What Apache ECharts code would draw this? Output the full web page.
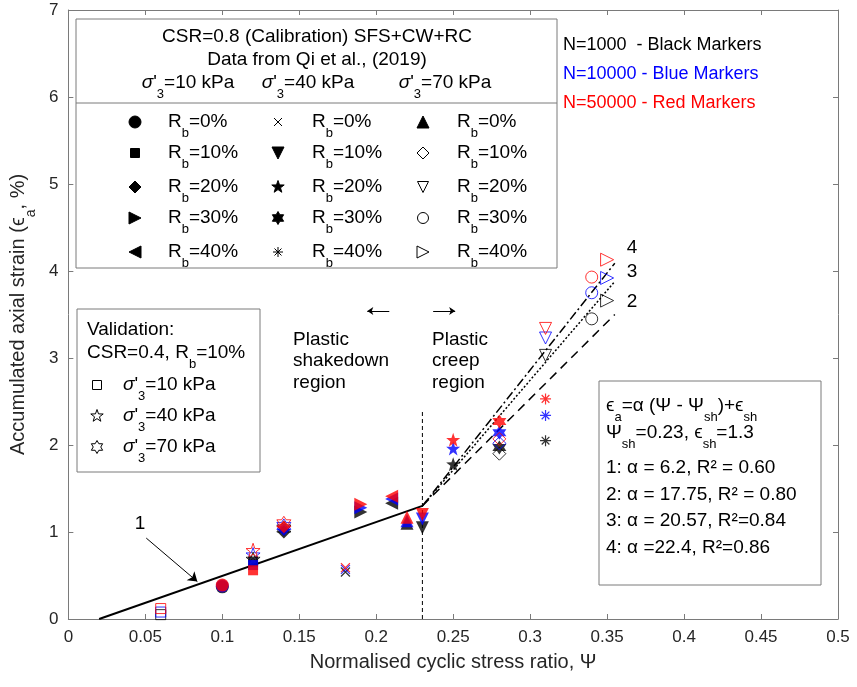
<!DOCTYPE html>
<html>
<head>
<meta charset="utf-8">
<script src="https://cdn.jsdelivr.net/npm/echarts@6/dist/echarts.min.js"></script>
<style>
  html, body { margin: 0; padding: 0; background: #fff; }
  #main { width: 857px; height: 687px; }
</style>
</head>
<body>
<div id="main"></div>
<script>
// ---- data ----
// colours for N = 1000, 10000, 50000
var nColors = ['#000000', '#0000ff', '#ff0000'];
var rbLabels = ['0%', '10%', '20%', '30%', '40%'];

// sigma'3 = 10 kPa, Rb = 0..40%
var psi10 = [0.10, 0.12, 0.14, 0.19, 0.21];
var eps10_N1000 = [0.37, 0.66, 1.00, 1.23, 1.33];
var eps10_N10000 = [0.38, 0.62, 1.03, 1.28, 1.38];
var eps10_N50000 = [0.39, 0.56, 1.06, 1.32, 1.41];

// sigma'3 = 40 kPa
var psi40 = [0.18, 0.23, 0.25, 0.28, 0.31];
var eps40_N1000 = [0.54, 1.05, 1.78, 1.97, 2.05];
var eps40_N10000 = [0.57, 1.15, 1.96, 2.14, 2.34];
var eps40_N50000 = [0.59, 1.20, 2.06, 2.27, 2.53];

// sigma'3 = 70 kPa
var psi70 = [0.22, 0.28, 0.31, 0.34, 0.35];
var eps70_N1000 = [1.10, 1.90, 3.03, 3.45, 3.66];
var eps70_N10000 = [1.13, 2.02, 3.23, 3.75, 3.92];
var eps70_N50000 = [1.17, 2.07, 3.34, 3.93, 4.13];

// validation CSR=0.4, Rb=10% (10, 40, 70 kPa)
var psiVal = [0.06, 0.12, 0.14];
var epsVal_N1000 = [0.05, 0.69, 1.04];
var epsVal_N10000 = [0.08, 0.74, 1.07];
var epsVal_N50000 = [0.12, 0.79, 1.10];

// fitted lines
var fit1 = [[0.02, 0], [0.23, 1.3]];
var fit2 = [[0.23, 1.3], [0.355, 3.50]];
var fit3 = [[0.23, 1.3], [0.355, 3.88]];
var fit4 = [[0.23, 1.3], [0.355, 4.09]];
var psiShLine = [[0.23, 0], [0.23, 2.4]];

// markers (shape, hollow, size)
var markers10 = [['circle', false, 13], ['square', false, 10], ['diamond', false, 13], ['right', false, 13], ['left', false, 13]];
var markers40 = [['cross', false, 9], ['down', false, 13], ['star', false, 14], ['hexagram', false, 14], ['asterisk', false, 11]];
var markers70 = [['up', false, 13], ['diamond', true, 13], ['down', true, 12], ['circle', true, 12], ['right', true, 13]];
var markersVal = [['square', true, 10], ['star', true, 14], ['hexagram', true, 14]];

var FONT = '"Liberation Sans", Arial, sans-serif';
var AXIS_GREY = '#7a7a7a';
var FS = 19;

// shape outlines in a 10x10 box
var polyShapes = {
  square: [[0,0],[10,0],[10,10],[0,10]],
  diamond: [[5,0],[10,5],[5,10],[0,5]],
  up: [[5,0],[10,10],[0,10]],
  down: [[0,0],[10,0],[5,10]],
  right: [[0,0],[10,5],[0,10]],
  left: [[10,0],[0,5],[10,10]],
  star: [[5,0],[6.18,3.38],[9.76,3.45],[6.9,5.62],[7.94,9.05],[5,7],[2.06,9.05],[3.1,5.62],[0.24,3.45],[3.82,3.38]],
  hexagram: [[5,0],[6.44,2.5],[9.33,2.5],[7.89,5],[9.33,7.5],[6.44,7.5],[5,10],[3.56,7.5],[0.67,7.5],[2.11,5],[0.67,2.5],[3.56,2.5]]
};
var segShapes = {
  cross: [[[0,0],[10,10]], [[10,0],[0,10]]],
  asterisk: [[[5,0],[5,10]], [[0,5],[10,5]], [[1.5,1.5],[8.5,8.5]], [[8.5,1.5],[1.5,8.5]]]
};

function symbolOf(shape) {
  if (shape === 'circle') return 'circle';
  if (polyShapes[shape]) {
    return 'path://M' + polyShapes[shape].map(function (p) { return p.join(','); }).join('L') + 'Z';
  }
  return 'path://' + segShapes[shape].map(function (s) { return 'M' + s[0].join(',') + 'L' + s[1].join(','); }).join('');
}

function itemStyleOf(shape, hollow, c) {
  if (segShapes[shape]) return { color: c, borderColor: c, borderWidth: 1.2 };
  if (hollow) return { color: 'rgba(0,0,0,0)', borderColor: c, borderWidth: 1 };
  return { color: c };
}

var series = [];
function addGroup(psi, ys, markers) {
  psi.forEach(function (x, i) {
    var m = markers[i];
    series.push({
      type: 'scatter',
      symbol: symbolOf(m[0]),
      symbolSize: m[2],
      silent: true,
      z: 3,
      data: ys.map(function (arr, k) {
        return { value: [x, arr[i]], itemStyle: itemStyleOf(m[0], m[1], nColors[k]) };
      })
    });
  });
}
addGroup(psiVal, [epsVal_N1000, epsVal_N10000, epsVal_N50000], markersVal);
addGroup(psi10, [eps10_N1000, eps10_N10000, eps10_N50000], markers10);
addGroup(psi40, [eps40_N1000, eps40_N10000, eps40_N50000], markers40);
addGroup(psi70, [eps70_N1000, eps70_N10000, eps70_N50000], markers70);

function lineSeries(data, type, width) {
  return { type: 'line', data: data, symbol: 'none', silent: true, z: 2,
    lineStyle: { color: '#000', width: width, type: type } };
}
var fitSeries = lineSeries(fit1, 'solid', 2);
fitSeries.markLine = {
  silent: true, symbol: ['none', 'arrow'], symbolSize: 9, label: { show: false },
  lineStyle: { color: '#000', width: 1, type: 'solid' },
  data: [
    [{ coord: [0.0506, 0.93] }, { coord: [0.0838, 0.43] }],
    [{ coord: [0.2085, 3.54], symbolSize: 6 }, { coord: [0.1942, 3.54], symbolSize: 6 }],
    [{ coord: [0.2370, 3.54], symbolSize: 6 }, { coord: [0.2513, 3.54], symbolSize: 6 }]
  ]
};
series.push(fitSeries);
series.push(lineSeries(fit2, [9, 6], 1.5));
series.push(lineSeries(fit3, [2, 2], 1.5));
series.push(lineSeries(fit4, [9, 3, 2, 3], 1.5));
series.push(lineSeries(psiShLine, [4, 3], 1));

// ---- text helpers ----
// subscript: taller token aligned to top, text pushed down by padding
function richG(c) {
  return {
    sub: { fontSize: 13, lineHeight: 13, padding: [16, 0, 0, 0], verticalAlign: 'top', fontFamily: FONT, fill: c },
    it: { fontSize: FS, fontStyle: 'italic', fontFamily: FONT, fill: c }
  };
}
function txt(x, y, text, opts) {
  opts = opts || {};
  var c = opts.color || '#000';
  return {
    type: 'text', x: x, y: y, z: 102, silent: true,
    style: {
      text: text, fontSize: opts.size || FS, fontFamily: FONT, fill: c,
      align: opts.align || 'left', verticalAlign: 'middle', lineHeight: opts.lh || 22,
      rich: richG(c)
    }
  };
}
function box(x, y, w, h) {
  return { type: 'rect', z: 100, silent: true, shape: { x: x, y: y, width: w, height: h },
    style: { fill: '#fff', stroke: AXIS_GREY, lineWidth: 1 } };
}
function legendMarker(m, cx, cy) {
  var shape = m[0], hollow = m[1], s = m[2] - 1;
  var st = { fill: hollow ? 'none' : '#000', stroke: '#000', lineWidth: 1 };
  if (shape === 'circle') return [{ type: 'circle', z: 101, silent: true, shape: { cx: cx, cy: cy, r: s / 2 }, style: st }];
  if (polyShapes[shape]) {
    return [{ type: 'polygon', z: 101, silent: true, style: st,
      shape: { points: polyShapes[shape].map(function (p) { return [cx + (p[0] - 5) / 10 * s, cy + (p[1] - 5) / 10 * s]; }) } }];
  }
  return segShapes[shape].map(function (sg) {
    return { type: 'line', z: 101, silent: true, style: { stroke: '#000', lineWidth: 1 },
      shape: { x1: cx + (sg[0][0] - 5) / 10 * s, y1: cy + (sg[0][1] - 5) / 10 * s,
               x2: cx + (sg[1][0] - 5) / 10 * s, y2: cy + (sg[1][1] - 5) / 10 * s } };
  });
}

var graphics = [];
// calibration legend box
graphics.push(box(76, 19, 481, 249));
graphics.push({ type: 'line', z: 101, silent: true, shape: { x1: 76, y1: 103, x2: 557, y2: 103 }, style: { stroke: AXIS_GREY, lineWidth: 1 } });
graphics.push(txt(317, 37, 'CSR=0.8 (Calibration) SFS+CW+RC', { align: 'center' }));
graphics.push(txt(317, 60, 'Data from Qi et al., (2019)', { align: 'center' }));
var sigmaHead = ['10', '40', '70'];
var headX = [188, 308, 445];
sigmaHead.forEach(function (p, i) {
  graphics.push(txt(headX[i], 83, "{it|σ}'{sub|3}=" + p + ' kPa', { align: 'center' }));
});
var rowY = [122, 153, 187, 218, 252];
var colSym = [135, 278, 423];
var colTxt = [168, 312, 457];
[markers10, markers40, markers70].forEach(function (ms, j) {
  ms.forEach(function (m, i) {
    graphics = graphics.concat(legendMarker(m, colSym[j], rowY[i]));
    graphics.push(txt(colTxt[j], rowY[i], 'R{sub|b}=' + rbLabels[i]));
  });
});

// N colour notes
graphics.push(txt(563, 45, 'N=1000  - Black Markers', { color: nColors[0], size: 18 }));
graphics.push(txt(563, 74, 'N=10000 - Blue Markers', { color: nColors[1], size: 18 }));
graphics.push(txt(563, 103, 'N=50000 - Red Markers', { color: nColors[2], size: 18 }));

// validation box
graphics.push(box(77, 309, 183, 163));
graphics.push(txt(87, 330, 'Validation:'));
graphics.push(txt(87, 353, 'CSR=0.4, R{sub|b}=10%'));
var valY = [385, 416, 447];
markersVal.forEach(function (m, i) {
  graphics = graphics.concat(legendMarker(m, 97, valY[i]));
  graphics.push(txt(123, valY[i], "{it|σ}'{sub|3}=" + sigmaHead[i] + ' kPa'));
});

// equation box
graphics.push(box(599, 381, 222, 204));
graphics.push(txt(606, 406, 'ϵ{sub|a}=α (Ψ - Ψ{sub|sh})+ϵ{sub|sh}'));
graphics.push(txt(606, 433, 'Ψ{sub|sh}=0.23, ϵ{sub|sh}=1.3'));
graphics.push(txt(606, 468, '1: α = 6.2, R² = 0.60'));
graphics.push(txt(606, 495, '2: α = 17.75, R² = 0.80'));
graphics.push(txt(606, 521, '3: α = 20.57, R²=0.84'));
graphics.push(txt(606, 548, '4: α =22.4, R²=0.86'));

// annotations
graphics.push(txt(140, 524, '1', { align: 'center' }));
graphics.push(txt(632, 248, '4', { align: 'center' }));
graphics.push(txt(632, 272, '3', { align: 'center' }));
graphics.push(txt(632, 302, '2', { align: 'center' }));
graphics.push(txt(293, 361, 'Plastic\nshakedown\nregion', { lh: 21.5 }));
graphics.push(txt(432, 361, 'Plastic\ncreep\nregion', { lh: 21.5 }));

function axisBase(extra) {
  var a = {
    type: 'value',
    axisLine: { show: true, onZero: false, lineStyle: { color: AXIS_GREY, width: 1 } },
    axisTick: { show: true, inside: true, length: 5, lineStyle: { color: AXIS_GREY } },
    splitLine: { show: false },
    axisLabel: { color: '#262626', fontSize: 17, fontFamily: FONT }
  };
  for (var k in extra) a[k] = extra[k];
  return a;
}

var chart = echarts.init(document.getElementById('main'));
chart.setOption({
  backgroundColor: '#fff',
  animation: false,
  grid: { left: 68, right: 19, top: 10, bottom: 68 },
  xAxis: [
    axisBase({
      min: 0, max: 0.5, interval: 0.05,
      name: 'Normalised cyclic stress ratio, Ψ', nameLocation: 'middle', nameGap: 33,
      nameTextStyle: { fontSize: 20, color: '#262626', fontFamily: FONT },
      axisLabel: { color: '#262626', fontSize: 17, fontFamily: FONT, margin: 10,
        formatter: function (v) { return String(+v.toFixed(2)); } }
    }),
    axisBase({ min: 0, max: 0.5, interval: 0.05, position: 'top', axisLabel: { show: false } })
  ],
  yAxis: [
    axisBase({
      min: 0, max: 7, interval: 1,
      name: 'Accumulated axial strain ({e|ϵ}{sub|a}, %)', nameLocation: 'middle', nameGap: 34,
      nameTextStyle: { fontSize: 20, color: '#262626', fontFamily: FONT,
        rich: { e: { fontSize: 20, color: '#262626', fontFamily: FONT },
                sub: { fontSize: 14, lineHeight: 14, padding: [16, 0, 0, 0], verticalAlign: 'top', color: '#262626', fontFamily: FONT } } },
      axisLabel: { color: '#262626', fontSize: 17, fontFamily: FONT, margin: 10 }
    }),
    axisBase({ min: 0, max: 7, interval: 1, position: 'right', axisLabel: { show: false } })
  ],
  graphic: graphics,
  series: series
});
</script>
</body>
</html>
